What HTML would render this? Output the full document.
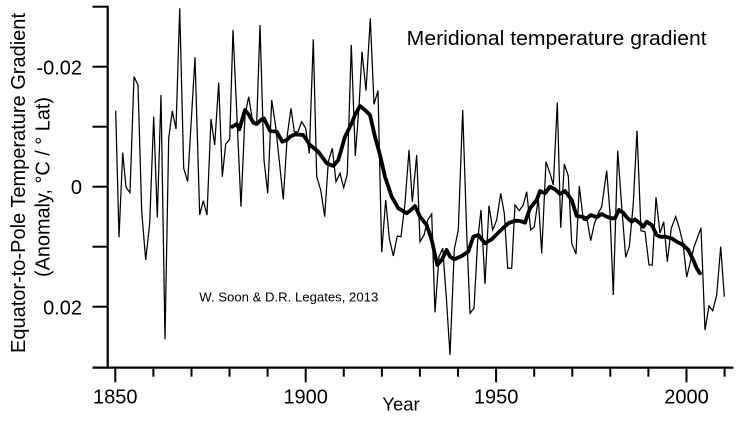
<!DOCTYPE html>
<html><head><meta charset="utf-8"><style>
html,body{margin:0;padding:0;background:#fff;}
svg{display:block;}
text{font-family:"Liberation Sans",Arial,sans-serif;fill:#000;}
</style></head><body>
<svg width="740" height="422" viewBox="0 0 740 422" xmlns="http://www.w3.org/2000/svg">
<rect width="740" height="422" fill="#fff"/>
<!-- axes -->
<line x1="107.7" y1="5.8" x2="107.7" y2="368.6" stroke="#000" stroke-width="2.2"/>
<line x1="92.5" y1="367.6" x2="733.5" y2="367.6" stroke="#000" stroke-width="2.2"/>
<!-- y ticks -->
<g stroke="#000" stroke-width="2">
<line x1="92.5" y1="6.7" x2="107.7" y2="6.7"/>
<line x1="92.5" y1="66.7" x2="107.7" y2="66.7"/>
<line x1="92.5" y1="126.7" x2="107.7" y2="126.7"/>
<line x1="92.5" y1="186.7" x2="107.7" y2="186.7"/>
<line x1="92.5" y1="246.7" x2="107.7" y2="246.7"/>
<line x1="92.5" y1="306.7" x2="107.7" y2="306.7"/>
</g>
<!-- x ticks -->
<g stroke="#000" stroke-width="2">
<line x1="115.3" y1="367.6" x2="115.3" y2="382.3"/>
<line x1="153.4" y1="367.6" x2="153.4" y2="376.7"/>
<line x1="191.5" y1="367.6" x2="191.5" y2="376.7"/>
<line x1="229.5" y1="367.6" x2="229.5" y2="376.7"/>
<line x1="267.6" y1="367.6" x2="267.6" y2="376.7"/>
<line x1="305.7" y1="367.6" x2="305.7" y2="382.3"/>
<line x1="343.8" y1="367.6" x2="343.8" y2="376.7"/>
<line x1="381.9" y1="367.6" x2="381.9" y2="376.7"/>
<line x1="419.9" y1="367.6" x2="419.9" y2="376.7"/>
<line x1="458.0" y1="367.6" x2="458.0" y2="376.7"/>
<line x1="496.1" y1="367.6" x2="496.1" y2="382.3"/>
<line x1="534.2" y1="367.6" x2="534.2" y2="376.7"/>
<line x1="572.3" y1="367.6" x2="572.3" y2="376.7"/>
<line x1="610.3" y1="367.6" x2="610.3" y2="376.7"/>
<line x1="648.4" y1="367.6" x2="648.4" y2="376.7"/>
<line x1="686.5" y1="367.6" x2="686.5" y2="382.3"/>
<line x1="724.6" y1="367.6" x2="724.6" y2="376.7"/>
</g>
<!-- tick labels -->
<g font-size="20" text-anchor="end">
<text x="82" y="74.5">-0.02</text>
<text x="82" y="194.2">0</text>
<text x="82" y="314.5">0.02</text>
</g>
<g font-size="20" text-anchor="middle">
<text x="115.3" y="403.5">1850</text>
<text x="305.7" y="403.5">1900</text>
<text x="496.1" y="403.5">1950</text>
<text x="686.5" y="403.5">2000</text>
</g>
<text x="401" y="410.5" font-size="18.5" text-anchor="middle">Year</text>
<!-- y label -->
<text transform="translate(24.8,183) rotate(-90)" font-size="20.5" text-anchor="middle" textLength="340" lengthAdjust="spacingAndGlyphs">Equator-to-Pole Temperature Gradient</text>
<text transform="translate(49.5,187) rotate(-90)" font-size="20.5" text-anchor="middle" textLength="180" lengthAdjust="spacingAndGlyphs">(Anomaly, °C / ° Lat)</text>
<!-- title & credit -->
<text x="406.7" y="45" font-size="20" textLength="300" lengthAdjust="spacingAndGlyphs">Meridional temperature gradient</text>
<text x="199.3" y="301.7" font-size="12.5" textLength="179" lengthAdjust="spacingAndGlyphs">W. Soon &amp; D.R. Legates, 2013</text>
<!-- annual series -->
<polyline fill="none" stroke="#000" stroke-width="1.25" stroke-linejoin="miter" points="
115.7,110.7 119,237.3 122.7,152.7 126,187.3 130,192.7 134,76.7 138,85 141.7,211.7 145.7,260 149.7,223.3
153.7,116.7 157.3,217.3 161,95 165,339.3 168.7,138.3 172.3,111 176,129 179.7,8.3 183.7,168.3 187.7,181.7
191.3,120 195,57.3 199.7,215 203.3,200.7 207,215 211,119 214.7,145 218.7,82.7 222.3,176.7 225.7,144
229.7,139.3 233,30 237,118 241,206.7 245,115 248.7,96.7 252.7,121.7 256.7,123 260,25 264,160
267.7,193.3 271.7,100 275.7,126.7 279.5,163 283.3,199.3 287.3,135 291,108.3 294.3,131.7 298,131.7 301.7,121.7
305.7,128.3 309.3,153.3 313.3,39.3 316.7,176.7 320.7,190 324.7,216.7 328.3,161.7 332.3,148.3 336,181.7 340,173.3
343.7,187.7 347.3,174 351.3,45 355.3,156 359,106.7 362,51.7 366,90.7 370.3,18.3 374,104.3 378,90.7
381.7,252.3 385.7,200 389.3,238.3 393.3,256 397.3,236 401,236.7 405,203.3 409,150 412.3,201.7 416.7,155
420,241.7 424,235 427.7,220 431.7,214 435,312.3 439,256.7 442.7,248.3 446.5,300 450,355 454.3,249.3
458.3,230 462.7,110 466.7,233 470,313.3 474,308.3 477.7,240 481,210 485,284 489,205.7 492.7,230
496.7,220 500.7,193.3 504.3,213.3 507.7,268.3 511.7,268.3 515,205 519.3,210.7 523.3,205 526.7,191.7 530.7,230
534.3,226.7 538.3,198.3 541.7,253.3 546,161.7 550,173.3 553.3,185 557.3,102.7 560.7,227.7 564.3,164 568.3,176
571.7,243.3 576,254 579.3,186 583.3,220 587.3,220.7 590.7,240.7 594.3,224 598.3,213.3 601.7,206.7 606.7,170.7
610,213.3 613.3,295 617.7,150.7 621.7,206.7 625.7,257.3 629.3,246.7 633.3,203.3 637,130.7 641,230.7 645,231.7
649,265 652.3,265 656,197.3 660,233.3 663.7,221.7 667.3,261.7 671.3,228.3 675.7,216.7 679.3,228 683,243.3
686.7,277 690.7,260.5 694.3,246 697.7,237 701,227.7 705,330 709,306 712.7,310.7 716.7,295 720.7,246.7
724.3,296.7"/>
<!-- smoothed series -->
<polyline fill="none" stroke="#000" stroke-width="3.8" stroke-linejoin="round" stroke-linecap="round" points="
232.3,126.7 236.7,124 239.3,129.3 245,110 249,115 253.3,122.7 256.7,124 261.7,119.3 264,118.5 270,130.7
276.7,131.7 282.3,141.7 286.7,140 290,136.7 295,134.3 303.3,135 310,145 318.3,151.7 326.7,163.3 333.3,166
338.3,160 345,136.7 351.7,123.3 355,115 360,106 365,110 370,115 375,136.7 380,155 385,176.7
391.7,196.7 398.3,208.3 406.7,213.3 410,210.7 415,206 420,216.7 426.7,225 431.7,240 437.3,265 441.7,260
446.7,250 450,256.7 454.3,259.3 461.7,256 468.3,251.7 473.3,236.7 478.3,235 485,243.3 491.7,239.3 501.7,229.3
508.3,223.3 515,220.7 520,221 525,222.7 530,208.3 536.7,200 540,191 545,193.3 550,186.7 555,189.3
560,194 565,191 571.7,200 576.7,216 581.7,216.7 586.7,218.3 591,215 596.7,217.3 601.7,214 606.7,216.7
611.7,218.3 615,218.3 619,210 623.3,212.7 626.7,217.3 631.7,221.7 635,219.3 640,223.3 643.3,226.7 646.7,221.7
651.7,225 656.7,235 660,236.7 665,236.7 671.7,238.3 676.7,241.7 683.3,245 688.3,250 693.3,260 696.7,268.3
700,273.3"/>
</svg>
</body></html>
